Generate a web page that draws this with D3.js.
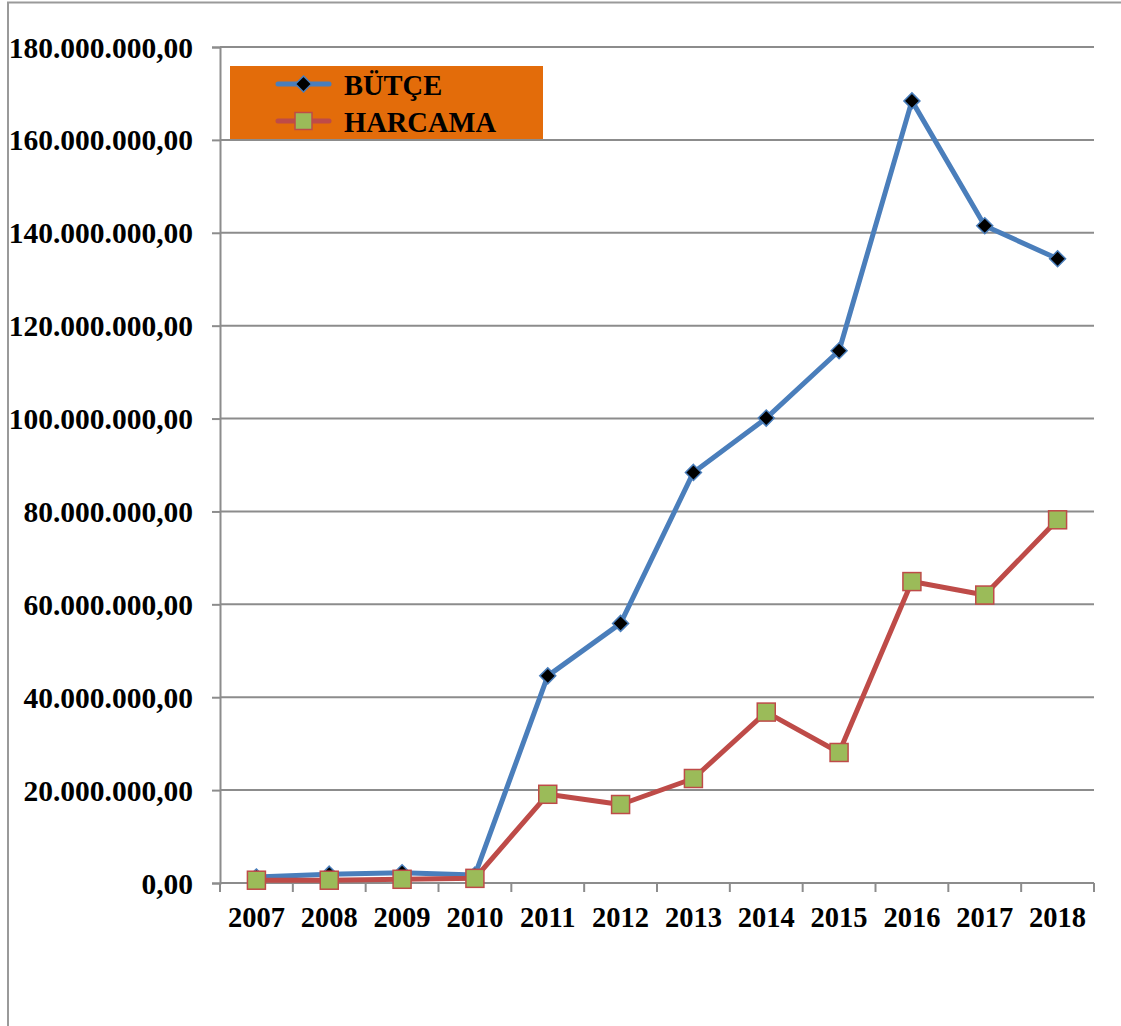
<!DOCTYPE html>
<html>
<head>
<meta charset="utf-8">
<script src="https://cdn.jsdelivr.net/npm/d3@7"></script>
<style>
  html, body { margin: 0; padding: 0; background: #fff; }
  svg { display: block; }
  text { font-family: "Liberation Serif", "Times New Roman", serif; font-weight: bold; fill: #000; }
</style>
</head>
<body>
<svg id="chart" width="1121" height="1026"></svg>
<script>
// Yearly budget vs. spending
const years = ["2007","2008","2009","2010","2011","2012","2013","2014","2015","2016","2017","2018"];
const butce = [1300000, 1900000, 2200000, 1700000, 44600000, 55900000, 88400000, 100100000, 114600000, 168400000, 141500000, 134400000];
const harcama = [600000, 600000, 800000, 1000000, 19100000, 16900000, 22500000, 36800000, 28100000, 64900000, 62000000, 78200000];
const yTicks = [0, 20000000, 40000000, 60000000, 80000000, 100000000, 120000000, 140000000, 160000000, 180000000];
const seriesNames = ["BÜTÇE", "HARCAMA"];

const svg = d3.select("#chart");
const W = 1121, H = 1026;
const plot = { left: 220, right: 1094, top: 47, bottom: 883 };

const tr = d3.formatLocale({ decimal: ",", thousands: ".", grouping: [3], currency: ["", ""] });
const fmt = tr.format(",.2f");

const x = d3.scaleBand().domain(years).range([plot.left, plot.right]).padding(0);
const y = d3.scaleLinear().domain([0, 180000000]).range([plot.bottom, plot.top]);
const cx = d => x(d) + x.bandwidth() / 2;

// outer frame (top and left edges)
svg.append("path")
  .attr("d", `M8,${H} L8,2.5 L${W},2.5`)
  .attr("fill", "none").attr("stroke", "#9a9a9a").attr("stroke-width", 2);

const gridColor = "#8c8c8c";

// horizontal gridlines
svg.append("g").selectAll("line")
  .data(yTicks.filter(v => v > 0))
  .join("line")
  .attr("x1", plot.left).attr("x2", plot.right)
  .attr("y1", d => y(d)).attr("y2", d => y(d))
  .attr("stroke", gridColor).attr("stroke-width", 2);

// y axis
const yAxis = svg.append("g")
  .attr("transform", `translate(${plot.left},0)`)
  .call(d3.axisLeft(y).tickValues(yTicks).tickFormat(fmt).tickSize(8).tickPadding(19));
yAxis.select(".domain").attr("stroke", gridColor).attr("stroke-width", 2);
yAxis.selectAll(".tick line").attr("stroke", gridColor).attr("stroke-width", 2);
yAxis.selectAll(".tick text")
  .style("font-family", "'Liberation Serif', serif")
  .style("font-weight", "bold")
  .style("font-size", "29.5px")
  .attr("fill", "#000")
  .attr("dy", "0.34em");

// x axis: labels centered in each band, tick marks at band boundaries
const xAxis = svg.append("g")
  .attr("transform", `translate(0,${plot.bottom})`)
  .call(d3.axisBottom(x).tickSize(0).tickPadding(0));
xAxis.select(".domain").remove();
xAxis.selectAll(".tick text")
  .style("font-family", "'Liberation Serif', serif")
  .style("font-weight", "bold")
  .style("font-size", "28.5px")
  .attr("fill", "#000")
  .attr("dy", null)
  .attr("y", 44);
svg.append("line")
  .attr("x1", plot.left).attr("x2", plot.right)
  .attr("y1", plot.bottom).attr("y2", plot.bottom)
  .attr("stroke", gridColor).attr("stroke-width", 2);
const bounds = years.map(d => x(d)).concat([x(years[years.length - 1]) + x.bandwidth()]);
svg.append("g").selectAll("line")
  .data(bounds)
  .join("line")
  .attr("x1", d => d).attr("x2", d => d)
  .attr("y1", plot.bottom).attr("y2", plot.bottom + 9)
  .attr("stroke", gridColor).attr("stroke-width", 2);

// series
const line = d3.line().x((d, i) => cx(years[i])).y(d => y(d));

const blue = "#4a7ebb", red = "#be4b48";

svg.append("path").datum(butce)
  .attr("d", line).attr("fill", "none")
  .attr("stroke", blue).attr("stroke-width", 5).attr("stroke-linejoin", "round");

svg.append("path").datum(harcama)
  .attr("d", line).attr("fill", "none")
  .attr("stroke", red).attr("stroke-width", 5).attr("stroke-linejoin", "round");

const diamond = (px, py, r) => `M${px},${py - r} L${px + r},${py} L${px},${py + r} L${px - r},${py} Z`;

svg.append("g").selectAll("path")
  .data(butce)
  .join("path")
  .attr("d", (d, i) => diamond(cx(years[i]), y(d), 8))
  .attr("fill", "#000").attr("stroke", blue).attr("stroke-width", 1.5);

const sq = 18;
svg.append("g").selectAll("rect")
  .data(harcama)
  .join("rect")
  .attr("x", (d, i) => cx(years[i]) - sq / 2)
  .attr("y", d => y(d) - sq / 2)
  .attr("width", sq).attr("height", sq)
  .attr("fill", "#9bbb59").attr("stroke", red).attr("stroke-width", 1.5);

// legend
const lg = svg.append("g");
lg.append("rect").attr("x", 230).attr("y", 66).attr("width", 313).attr("height", 73).attr("fill", "#e36c0a");
const rows = [
  { name: seriesNames[0], color: blue, y: 84 },
  { name: seriesNames[1], color: red, y: 121 }
];
rows.forEach((r, i) => {
  lg.append("line").attr("x1", 278).attr("x2", 329).attr("y1", r.y).attr("y2", r.y)
    .attr("stroke", r.color).attr("stroke-width", 5).attr("stroke-linecap", "round");
  if (i === 0) {
    lg.append("path").attr("d", diamond(303.5, r.y, 8)).attr("fill", "#000").attr("stroke", blue).attr("stroke-width", 1.5);
  } else {
    lg.append("rect").attr("x", 303.5 - 8.5).attr("y", r.y - 8.5).attr("width", 17).attr("height", 17)
      .attr("fill", "#9bbb59").attr("stroke", red).attr("stroke-width", 1.5);
  }
  lg.append("text").attr("x", 344).attr("y", r.y + 11)
    .style("font-size", "28.5px").text(r.name);
});
</script>
</body>
</html>
